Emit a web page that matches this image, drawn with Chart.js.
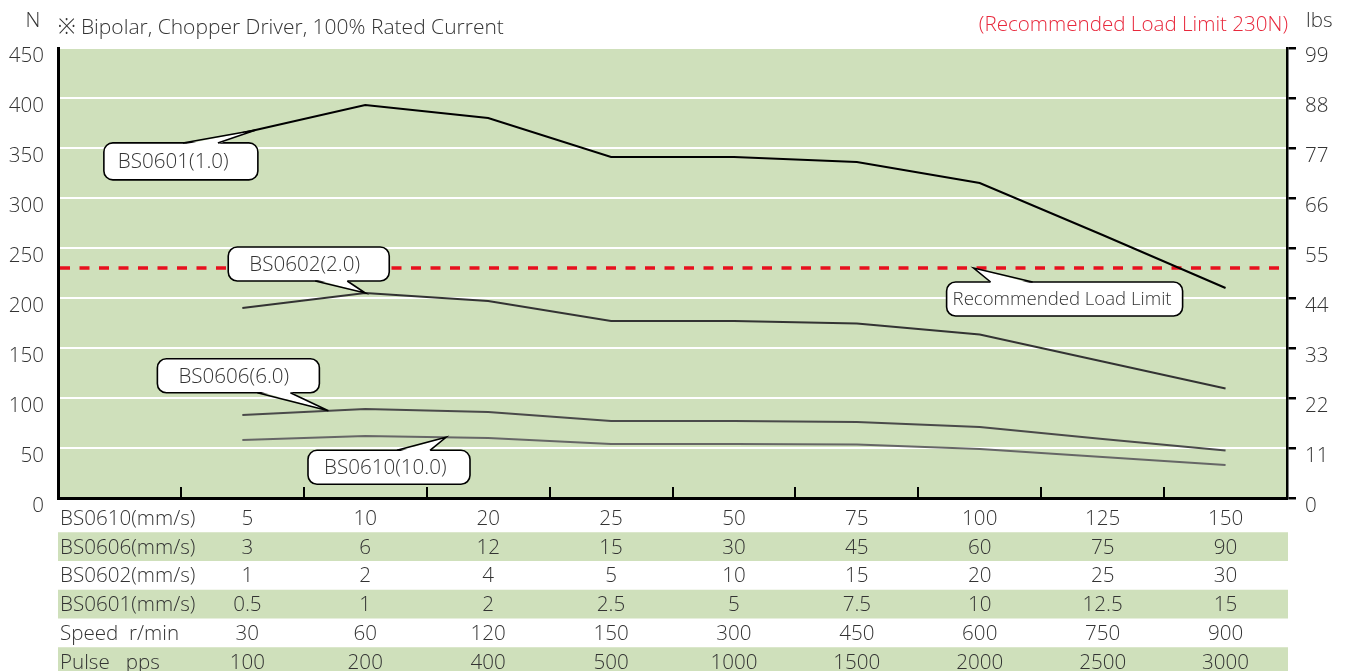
<!DOCTYPE html>
<html>
<head>
<meta charset="utf-8">
<script src="https://cdn.jsdelivr.net/npm/chart.js@4.4.1/dist/chart.umd.min.js"></script>
<style>
  html, body { margin: 0; padding: 0; background: #ffffff; }
  #wrap { position: relative; width: 1349px; height: 671px; }
  canvas { display: block; }
</style>
</head>
<body>
<div id="wrap"><canvas id="c" width="1349" height="671"></canvas></div>
<script>
// ---------- data ----------
const categories = ['', '5', '10', '20', '25', '50', '75', '100', '125', '150'];
const seriesNames = ['BS0601(1.0)', 'BS0602(2.0)', 'BS0606(6.0)', 'BS0610(10.0)'];
const bs0601 = [null, 365, 393, 380, 341, 341, 336, 315, 263, 210];
const bs0602 = [null, 190, 205, 197, 177, 177, 174.5, 163.5, 136.5, 109.5];
const bs0606 = [null, 83, 89, 86, 77, 77, 76, 71, 59, 47.5];
const bs0610 = [null, 58, 62, 60, 54, 54, 53.5, 49, 41, 33];
const loadLimit = 230;

const yLeftMax = 450, yLeftStep = 50;
const yRightMax = 99, yRightStep = 11;

const rowLabels = ['BS0610(mm/s)', 'BS0606(mm/s)', 'BS0602(mm/s)', 'BS0601(mm/s)', 'Speed  r/min', 'Pulse   pps'];
const rowBS0610 = ['5', '10', '20', '25', '50', '75', '100', '125', '150'];
const rowBS0606 = ['3', '6', '12', '15', '30', '45', '60', '75', '90'];
const rowBS0602 = ['1', '2', '4', '5', '10', '15', '20', '25', '30'];
const rowBS0601 = ['0.5', '1', '2', '2.5', '5', '7.5', '10', '12.5', '15'];
const rowSpeed = ['30', '60', '120', '150', '300', '450', '600', '750', '900'];
const rowPulse = ['100', '200', '400', '500', '1000', '1500', '2000', '2500', '3000'];
const tableRows = [rowBS0610, rowBS0606, rowBS0602, rowBS0601, rowSpeed, rowPulse];

const titleText = '※ Bipolar, Chopper Driver, 100% Rated Current';
const limitText = '(Recommended Load Limit 230N)';
const limitLabel = 'Recommended Load Limit';
const leftUnit = 'N';
const rightUnit = 'lbs';

// ---------- style ----------
const FONT = "'Open Sans', 'Noto Sans', sans-serif";
const WEIGHT = '300';
const FS = 20.6;
const GREEN = '#cfe0bb';
const TEXT = '#333333';
const RED = '#e8101e';
const firstColShift = 5;

// callouts: anchor on a series (fractional category index), box offsets relative to tip
const callouts = [
  { text: seriesNames[0], series: 0, at: 1.11, box: [-152, 13, 154, 37], base: [-73, -38], tx: 14, fs: FS },
  { text: seriesNames[1], series: 1, at: 2.0, box: [-137, -46, 161, 34], base: [-50, -18], tx: 21, fs: FS },
  { text: seriesNames[2], series: 2, at: 1.70, box: [-171, -52, 162, 34], base: [-71, -38], tx: 21, fs: FS },
  { text: seriesNames[3], series: 3, at: 2.657, box: [-138, 13, 162, 34], base: [-49, -16], tx: 16, fs: FS },
  { text: limitLabel, series: -1, at: 6.95, box: [-27, 14, 236, 34], base: [17, 59], tx: 6, fs: 18.6 }
];

const seriesData = [bs0601, bs0602, bs0606, bs0610];

function valueAt(arr, at) {
  const i = Math.floor(at), f = at - i;
  if (f === 0 || arr[i + 1] == null) return arr[i];
  return arr[i] + (arr[i + 1] - arr[i]) * f;
}

const decorPlugin = {
  id: 'decor',
  beforeDraw(chart) {
    const { ctx, chartArea: a } = chart;
    ctx.save();
    ctx.fillStyle = GREEN;
    ctx.fillRect(a.left, a.top, a.right - a.left, a.bottom - a.top);
    ctx.restore();
  },
  beforeDatasetsDraw(chart) {
    const { ctx, chartArea: a, scales } = chart;
    const y = scales.y.getPixelForValue(loadLimit);
    ctx.save();
    ctx.strokeStyle = RED;
    ctx.lineWidth = 3.5;
    ctx.setLineDash([10, 9.5]);
    ctx.beginPath();
    ctx.moveTo(a.left + 2, y);
    ctx.lineTo(a.right, y);
    ctx.stroke();
    ctx.restore();
  },
  afterDatasetsDraw(chart) {
    const { ctx, scales } = chart;
    const xs = scales.x, ys = scales.y;
    ctx.save();
    ctx.textBaseline = 'middle';
    ctx.textAlign = 'left';
    callouts.forEach(c => {
      const i = Math.floor(c.at), f = c.at - i;
      const tx = xs.getPixelForValue(i) + f * (xs.getPixelForValue(i + 1) - xs.getPixelForValue(i));
      const v = c.series < 0 ? loadLimit : valueAt(seriesData[c.series], c.at);
      const ty = ys.getPixelForValue(v);
      const bx = tx + c.box[0], by = ty + c.box[1], bw = c.box[2], bh = c.box[3];
      const baseY = c.box[1] > 0 ? by : by + bh;
      const b1 = tx + c.base[0], b2 = tx + c.base[1];
      ctx.lineWidth = 1.6;
      ctx.strokeStyle = '#000';
      ctx.fillStyle = '#fff';
      ctx.beginPath();
      ctx.roundRect(bx, by, bw, bh, 9);
      ctx.fill();
      ctx.stroke();
      const inward = c.box[1] > 0 ? 1.5 : -1.5;
      ctx.beginPath();
      ctx.moveTo(Math.min(b1, b2) + 1, baseY + inward);
      ctx.lineTo(tx, ty);
      ctx.lineTo(Math.max(b1, b2) - 1, baseY + inward);
      ctx.closePath();
      ctx.fill();
      ctx.beginPath();
      ctx.moveTo(b1, baseY);
      ctx.lineTo(tx, ty);
      ctx.lineTo(b2, baseY);
      ctx.stroke();
      ctx.fillStyle = TEXT;
      ctx.font = WEIGHT + ' ' + c.fs + 'px ' + FONT;
      ctx.fillText(c.text, bx + c.tx, by + bh / 2 + 1);
    });
    ctx.restore();
  },
  afterDraw(chart) {
    const { ctx, chartArea: a, scales } = chart;
    const xs = scales.x;
    ctx.save();
    // inward bottom ticks between categories
    ctx.strokeStyle = '#000';
    ctx.lineWidth = 2;
    for (let k = 1; k < categories.length; k++) {
      const x = Math.round((xs.getPixelForValue(k - 1) + xs.getPixelForValue(k)) / 2);
      ctx.beginPath();
      ctx.moveTo(x, a.bottom);
      ctx.lineTo(x, a.bottom - 11);
      ctx.stroke();
    }
    // table below the chart
    const top = a.bottom + 5.5, rh = 28.75;
    ctx.font = WEIGHT + ' ' + FS + 'px ' + FONT;
    ctx.textBaseline = 'middle';
    tableRows.forEach((row, r) => {
      const y0 = top + r * rh;
      if (r % 2 === 1) {
        ctx.fillStyle = GREEN;
        ctx.fillRect(a.left, y0, a.right + 1 - a.left, rh);
      }
      ctx.fillStyle = TEXT;
      ctx.textAlign = 'left';
      ctx.fillText(rowLabels[r], a.left + 2, y0 + rh / 2 + 1);
      ctx.textAlign = 'center';
      row.forEach((t, j) => {
        const x = xs.getPixelForValue(j + 1) + (j === 0 ? firstColShift : 0);
        ctx.fillText(t, x, y0 + rh / 2 + 1);
      });
    });
    // header texts
    ctx.textBaseline = 'middle';
    ctx.fillStyle = TEXT;
    ctx.textAlign = 'center';
    ctx.fillText(leftUnit, 33, 21);
    ctx.textAlign = 'left';
    ctx.font = WEIGHT + ' 21px ' + FONT;
    ctx.fillText(titleText, a.left, 28);
    ctx.font = WEIGHT + ' ' + FS + 'px ' + FONT;
    ctx.fillText(rightUnit, 1306, 21);
    ctx.fillStyle = '#e8283c';
    ctx.textAlign = 'right';
    ctx.fillText(limitText, a.right + 1, 25);
    ctx.restore();
  }
};

const lineDs = (label, data, color) => ({
  label, data, borderColor: color, backgroundColor: color,
  borderWidth: 2, pointRadius: 0, tension: 0, spanGaps: false, yAxisID: 'y'
});

new Chart(document.getElementById('c'), {
  type: 'line',
  data: {
    labels: categories,
    datasets: [
      lineDs(seriesNames[0], bs0601, '#000000'),
      lineDs(seriesNames[1], bs0602, '#333333'),
      lineDs(seriesNames[2], bs0606, '#4a4a4a'),
      lineDs(seriesNames[3], bs0610, '#666666')
    ]
  },
  options: {
    responsive: false,
    animation: false,
    devicePixelRatio: 1,
    layout: { padding: { top: 48, left: 0, right: 0, bottom: 0 } },
    plugins: { legend: { display: false }, tooltip: { enabled: false }, title: { display: false } },
    scales: {
      x: {
        type: 'category',
        offset: true,
        grid: { display: false, offset: true },
        border: { display: true, color: '#000', width: 3 },
        ticks: { display: false },
        afterFit(s) { s.height = 173; }
      },
      y: {
        position: 'left',
        min: 0, max: yLeftMax,
        ticks: { stepSize: yLeftStep, color: TEXT, font: { family: FONT, size: FS, weight: WEIGHT }, padding: 14, labelOffset: 8 },
        grid: { color: '#ffffff', lineWidth: 2, drawTicks: false },
        border: { display: true, color: '#000', width: 3 },
        afterFit(s) { s.width = 58; }
      },
      y1: {
        position: 'right',
        min: 0, max: yRightMax,
        ticks: { stepSize: yRightStep, color: TEXT, font: { family: FONT, size: FS, weight: WEIGHT }, padding: 9, labelOffset: 8 },
        grid: { drawOnChartArea: false, drawTicks: true, tickLength: 9, color: '#000', lineWidth: 2.5 },
        border: { display: true, color: '#000', width: 2.5 },
        afterFit(s) { s.width = 62; }
      }
    }
  },
  plugins: [decorPlugin]
});
</script>
</body>
</html>
